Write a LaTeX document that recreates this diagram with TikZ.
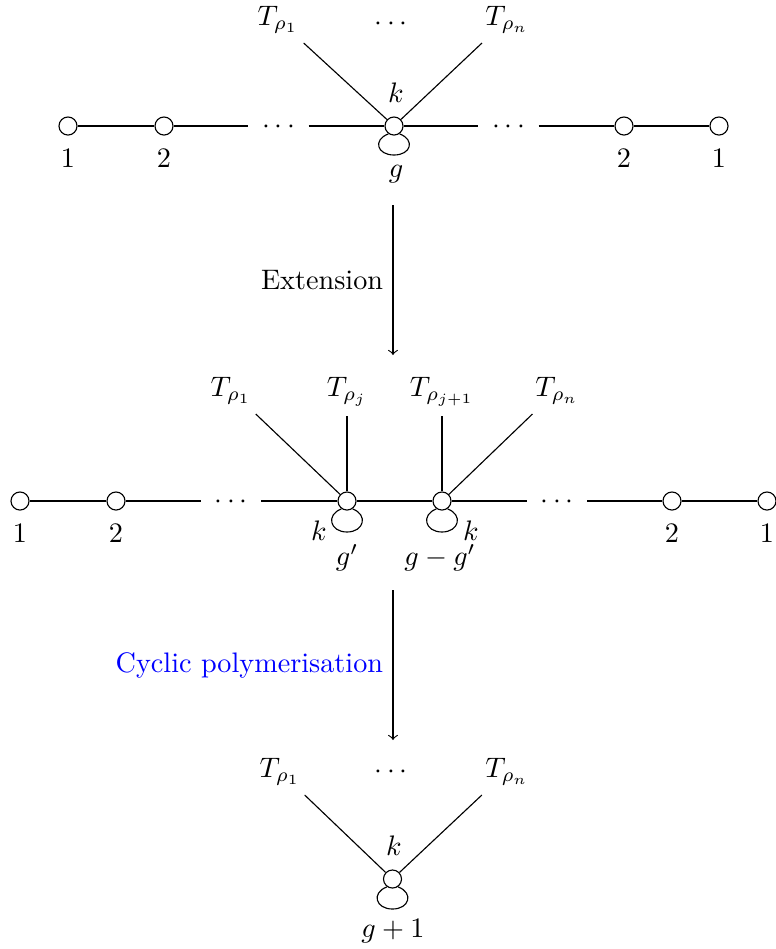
\documentclass[tikz,border=0pt]{standalone}
\usetikzlibrary{calc}
\newcommand\vxloop[2]{\draw (#1.-125) .. controls +(-16,6) and +(-17,0) .. ($(#1)+(0,#2)$) .. controls +(17,0) and +(16,6) .. (#1.-55);}
\begin{document}
\begin{tikzpicture}[x=0.3546pt, y=-0.3546pt,
  vtx/.style={circle, draw, minimum size=6.4pt, inner sep=0pt},
  dotsnode/.style={inner sep=0pt, minimum width=21pt, text height=5pt, text depth=0pt},
  tlbl/.style={anchor=base},
  arr/.style={->}]
\useasboundingbox (0,0) rectangle (776,949);

% ---------- top ----------
\node[vtx] (t1) at (68,126) {};
\node[vtx] (t2) at (164,126) {};
\node[dotsnode] (td1) at (278.5,126) {$\cdots$};
\node[vtx] (tc) at (394,126) {};
\node[dotsnode] (td2) at (508.5,126) {$\cdots$};
\node[vtx] (t2r) at (624,126) {};
\node[vtx] (t1r) at (719,126) {};
\node (t1l) at (68,158) {1};
\node (t2l) at (164,158) {2};
\node (t2rl) at (624,158) {2};
\node (t1rl) at (719,158) {1};
\node (tk) at (396,93) {$k$};
\node (tg) at (396,174) {$g$};
\node[tlbl] (tT1) at (278,25) {$T_{\rho_1}$};
\node[dotsnode] (tdots) at (391,23) {$\cdots$};
\node[tlbl] (tTn) at (507,25) {$T_{\rho_n}$};
\draw (t1) -- (t2) -- (td1);
\draw (td1) -- (tc) -- (td2);
\draw (td2) -- (t2r) -- (t1r);
\draw (tc) -- (tT1);
\draw (tc) -- (tTn);
\vxloop{tc}{29}

% ---------- arrow 1 ----------
\coordinate (a1s) at (393,205);
\coordinate (a1e) at (393,355);
\draw[arr] (a1s) -- node[left] (ext) {Extension} (a1e);

% ---------- middle ----------
\node[vtx] (m1) at (20,501) {};
\node[vtx] (m2) at (116,501) {};
\node[dotsnode] (md1) at (231,501) {$\cdots$};
\node[vtx] (mA) at (347,501) {};
\node[vtx] (mB) at (442,501) {};
\node[dotsnode] (md2) at (557,501) {$\cdots$};
\node[vtx] (m2r) at (672,501) {};
\node[vtx] (m1r) at (767,501) {};
\node (m1l) at (20,533) {1};
\node (m2l) at (116,533) {2};
\node (m2rl) at (672,533) {2};
\node (m1rl) at (767,533) {1};
\node[tlbl] (mT1) at (231,396) {$T_{\rho_1}$};
\node[tlbl] (mTj) at (347,396) {$T_{\rho_j}$};
\node[tlbl] (mTj1) at (442,396) {$T_{\rho_{j+1}}$};
\node[tlbl] (mTn) at (557,396) {$T_{\rho_n}$};
\node (mkA) at (319,531) {$k$};
\node (mkB) at (471,531) {$k$};
\node (mgA) at (347,558) {$g'$};
\node (mgB) at (440,558) {$g-g'$};
\draw (m1) -- (m2) -- (md1);
\draw (md1) -- (mA) -- (mB) -- (md2);
\draw (md2) -- (m2r) -- (m1r);
\draw (mA) -- (mT1);
\draw (mA) -- (mTj);
\draw (mB) -- (mTj1);
\draw (mB) -- (mTn);
\vxloop{mA}{31}
\vxloop{mB}{31}

% ---------- arrow 2 ----------
\coordinate (a2s) at (393,590);
\coordinate (a2e) at (393,740);
\draw[arr] (a2s) -- node[left, text=blue] (cyc) {Cyclic polymerisation} (a2e);

% ---------- bottom ----------
\node[vtx] (bv) at (392.5,879) {};
\node (bk) at (394,846) {$k$};
\node (bg) at (393,931) {$g+1$};
\node[tlbl] (bT1) at (280,777) {$T_{\rho_1}$};
\node[dotsnode] (bdots) at (391,771) {$\cdots$};
\node[tlbl] (bTn) at (507,777) {$T_{\rho_n}$};
\draw (bv) -- (bT1);
\draw (bv) -- (bTn);
\vxloop{bv}{30}
\end{tikzpicture}
\end{document}
